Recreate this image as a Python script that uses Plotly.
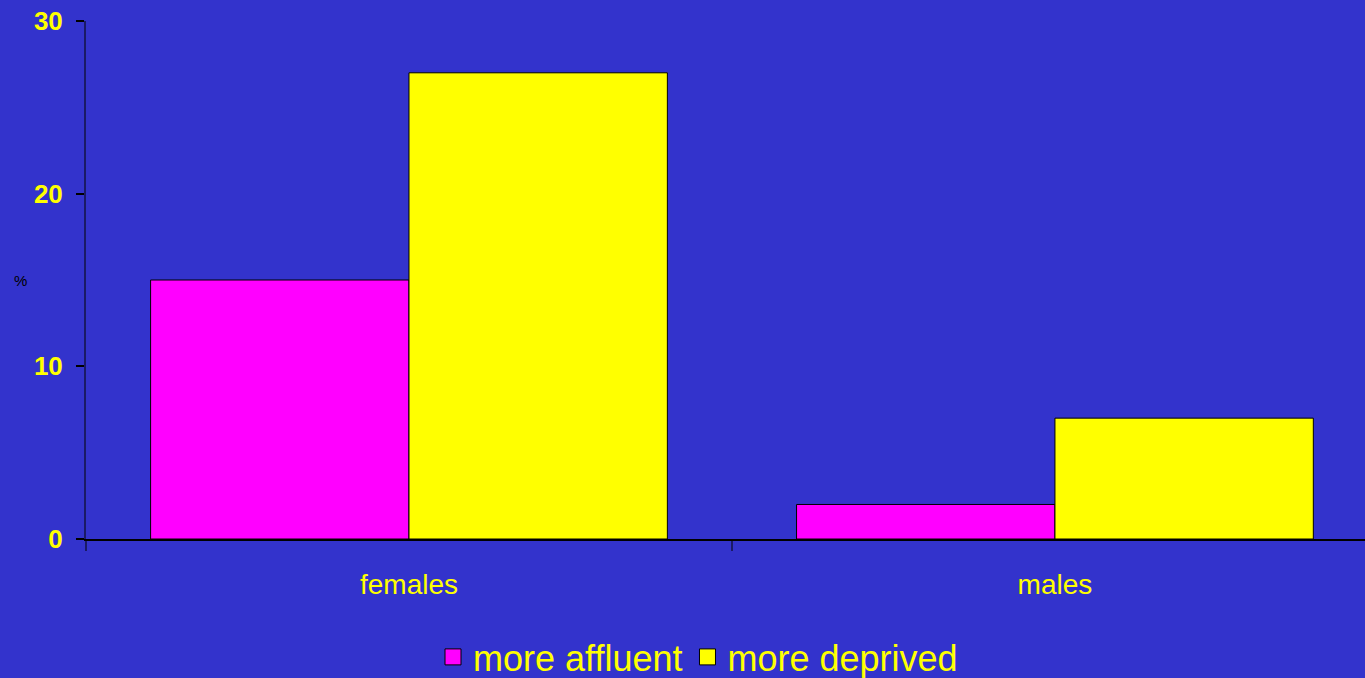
import plotly.graph_objects as go

categories = ["females", "males"]
affluent = [15, 2]
deprived = [27, 7]
series_names = ["more affluent", "more deprived"]
colors = ["#FF00FF", "#FFFF00"]
y_ticks = [0, 10, 20, 30]

BG = "#3333CC"
W, H = 1365, 678
ml, mt, mb = 86, 21, 139

fig = go.Figure()
for vals, name, col in zip([affluent, deprived], series_names, colors):
    fig.add_trace(go.Bar(x=categories, y=vals, name=name, showlegend=False,
                         marker=dict(color=col, line=dict(color="black", width=1))))
# legend entries with larger square swatches
for name, col in zip(series_names, colors):
    fig.add_trace(go.Scatter(x=[None], y=[None], mode="markers", name=name,
                             marker=dict(symbol="square", size=20, color=col,
                                         line=dict(color="black", width=1))))

fig.update_layout(
    width=W, height=H,
    margin=dict(l=ml, r=0, t=mt, b=mb, pad=0, autoexpand=False),
    paper_bgcolor=BG, plot_bgcolor=BG,
    barmode="group", bargap=0.2, bargroupgap=0,
    showlegend=True,
    legend=dict(orientation="h", xref="container", x=698 / W, xanchor="center",
                yref="container", y=1 - 657 / H, yanchor="middle",
                font=dict(family="Arial", size=36, color="#FFFF00"),
                bgcolor="rgba(0,0,0,0)", itemwidth=30, tracegroupgap=0),
    xaxis=dict(range=[-0.5, 1.48], showgrid=False, zeroline=False,
               showline=True, linecolor="black", linewidth=2,
               ticks="outside", tickson="boundaries", ticklen=10, tickcolor="#1a1a66", tickwidth=2,
               ticklabelstandoff=19,
               tickfont=dict(family="Arial", size=28, color="#FFFF00")),
    yaxis=dict(range=[0, 30], tickvals=y_ticks, showgrid=False, zeroline=False,
               showline=True, linecolor="#1a1a66", linewidth=2,
               ticks="outside", ticklen=8, tickcolor="black", tickwidth=2,
               ticklabelstandoff=8,
               tickfont=dict(family="Arial", size=26, color="#FFFF00", weight="bold")),
)
fig.add_annotation(text="%", xref="paper", yref="paper", x=(20 - ml) / (W - ml), y=(539 - 280) / (H - mt - mb),
                   xanchor="center", yanchor="middle", showarrow=False,
                   font=dict(family="Arial", size=15, color="black"))

fig.write_html("out.html", config={"displayModeBar": False},
               post_script="document.body.style.margin='0';document.body.style.padding='0';")
